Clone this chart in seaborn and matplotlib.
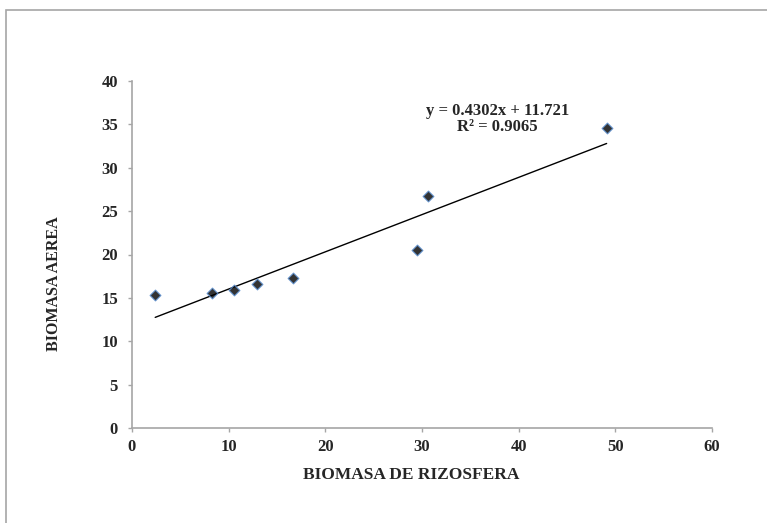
import numpy as np
import pandas as pd
import matplotlib
matplotlib.use("Agg")
import matplotlib.pyplot as plt
import seaborn as sns
from matplotlib.patches import Rectangle

biomasa_rizosfera = [2.4, 8.3, 10.6, 12.9, 16.7, 29.5, 30.6, 49.1]
biomasa_aerea = [15.3, 15.6, 15.9, 16.6, 17.3, 20.5, 26.7, 34.6]
x_ticks = [0, 10, 20, 30, 40, 50, 60]
y_ticks = [0, 5, 10, 15, 20, 25, 30, 35, 40]
equation_text = "y = 0.4302x + 11.721\nR² = 0.9065"

sns.set_theme(style="white")
plt.rcParams['font.family'] = ['Liberation Serif', 'DejaVu Serif']
plt.rcParams['font.weight'] = 'bold'

df = pd.DataFrame({"x": biomasa_rizosfera, "y": biomasa_aerea})

fig = plt.figure(figsize=(7.67, 5.23), dpi=100)
fig.patches.append(Rectangle((6 / 767, -0.1), 1.2, (523 - 10) / 523 + 0.1,
                             transform=fig.transFigure, fill=False,
                             edgecolor="#a6a6a6", linewidth=1.2))
ax = fig.add_axes([132 / 767, (523 - 428) / 523, (712 - 132) / 767, (428 - 81) / 523])

sns.regplot(data=df, x="x", y="y", ax=ax, ci=None, marker="D",
            scatter_kws=dict(s=30, color="#000000", edgecolors="#5b8fd0", linewidths=0.9, zorder=3),
            line_kws=dict(color="black", linewidth=1.0))

ax.set_xlim(0, 60)
ax.set_ylim(0, 40)
ax.set_xticks(x_ticks)
ax.set_yticks(y_ticks)
ax.set_xticklabels([str(t) for t in x_ticks], fontsize=12, fontweight="bold")
ax.set_yticklabels([str(t) for t in y_ticks], fontsize=12, fontweight="bold")
ax.tick_params(axis="both", which="both", length=3, width=1, color="#a6a6a6",
               direction="out", bottom=True, left=True)
ax.tick_params(axis="x", pad=5)
ax.tick_params(axis="y", pad=7)

for s in ["top", "right"]:
    ax.spines[s].set_visible(False)
for s in ["left", "bottom"]:
    ax.spines[s].set_color("#a6a6a6")
    ax.spines[s].set_linewidth(1.2)

ax.set_xlabel("BIOMASA DE RIZOSFERA", fontsize=12.5, fontweight="bold")
ax.xaxis.label.set_va("center")
ax.xaxis.set_label_coords(0.482, -0.1354)
ax.set_ylabel("BIOMASA AEREA", fontsize=11.5, fontweight="bold")
ax.yaxis.label.set_va("center")
ax.yaxis.set_label_coords(-0.134, 0.415)

ax.text(37.8, 35.6, equation_text, ha="center", va="center", fontsize=12,
        fontweight="bold", linespacing=1.0)

fig.savefig("out.png", dpi=100)
